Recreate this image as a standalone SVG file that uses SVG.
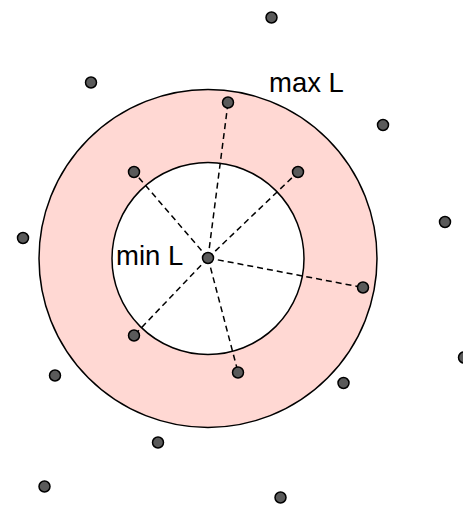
<svg xmlns="http://www.w3.org/2000/svg" width="463" height="507" viewBox="0 0 463 507">
<style>
.ring{stroke:#000;stroke-width:1.5}
.dot{fill:#5a5a5a;stroke:#000;stroke-width:1.5}
.dash{stroke:#000;stroke-width:1.5;stroke-dasharray:6 4;fill:none}
text{font-family:"Liberation Sans",Arial,sans-serif;font-size:27.5px;fill:#000}
</style>
<rect width="463" height="507" fill="#fff"/>
<g id="outer-circle"><circle class="ring" cx="208" cy="258.5" r="169" fill="#ffd8d3"/></g>
<g id="inner-circle"><circle class="ring" cx="208" cy="258.5" r="96" fill="#fff"/></g>
<g id="connectors">
<line class="dash" x1="208" y1="258" x2="228" y2="103"/>
<line class="dash" x1="208" y1="258" x2="134" y2="172"/>
<line class="dash" x1="208" y1="258" x2="298" y2="172"/>
<line class="dash" x1="208" y1="258" x2="363" y2="287.5"/>
<line class="dash" x1="208" y1="258" x2="134" y2="335.5"/>
<line class="dash" x1="208" y1="258" x2="238" y2="372"/>
</g>
<g id="labels">
<text x="269" y="92">max L</text>
<text x="116" y="265">min L</text>
</g>
<g id="points">
<circle id="p-center" class="dot" cx="208" cy="258" r="5.5"/>
<circle id="p1" class="dot" cx="271.5" cy="17.5" r="5.5"/>
<circle id="p2" class="dot" cx="91" cy="82.5" r="5.5"/>
<circle id="p3" class="dot" cx="228" cy="102.5" r="5.5"/>
<circle id="p4" class="dot" cx="383" cy="125" r="5.5"/>
<circle id="p5" class="dot" cx="134" cy="172" r="5.5"/>
<circle id="p6" class="dot" cx="298" cy="172" r="5.5"/>
<circle id="p7" class="dot" cx="445" cy="222" r="5.5"/>
<circle id="p8" class="dot" cx="23" cy="238" r="5.5"/>
<circle id="p9" class="dot" cx="363" cy="287.5" r="5.5"/>
<circle id="p10" class="dot" cx="134" cy="335.5" r="5.5"/>
<circle id="p11" class="dot" cx="238" cy="372.5" r="5.5"/>
<circle id="p12" class="dot" cx="464" cy="357.5" r="5.5"/>
<circle id="p13" class="dot" cx="55" cy="375.5" r="5.5"/>
<circle id="p14" class="dot" cx="343.5" cy="383" r="5.5"/>
<circle id="p15" class="dot" cx="158" cy="442.5" r="5.5"/>
<circle id="p16" class="dot" cx="44.5" cy="486.5" r="5.5"/>
<circle id="p17" class="dot" cx="280.5" cy="497.5" r="5.5"/>
</g>
</svg>
